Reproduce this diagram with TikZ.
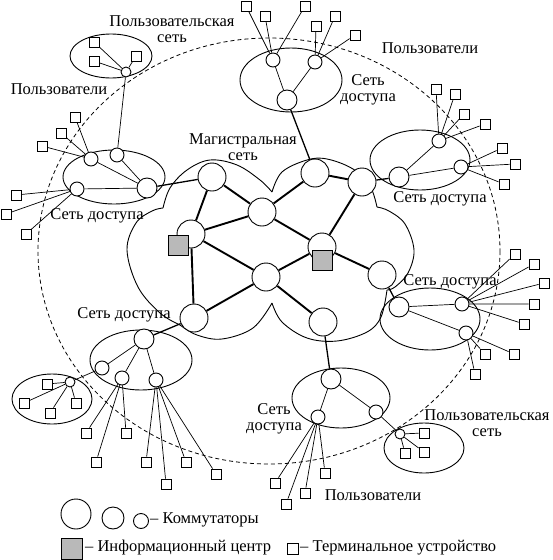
\documentclass[tikz,border=0pt]{standalone}
\usepackage{fontspec}
\setmainfont{Liberation Serif}
\newfontfamily\lbfont{Liberation Serif}
\begin{document}
\begin{tikzpicture}[x=1pt,y=-1pt,
  sw/.style={circle,draw,fill=white,inner sep=0pt,line width=0.9pt},
  bb/.style={sw,minimum size=28pt},
  am/.style={sw,minimum size=20pt},
  as/.style={sw,minimum size=14pt},
  us/.style={sw,minimum size=10pt},
  term/.style={rectangle,draw,fill=white,inner sep=0pt,minimum size=10pt,line width=0.8pt},
  info/.style={rectangle,draw,fill=gray!55,inner sep=0pt,minimum size=20pt,line width=0.8pt},
  thickl/.style={line width=1.9pt},
  medl/.style={line width=1.3pt},
  thinl/.style={line width=0.7pt},
  encl/.style={line width=0.9pt},
  lbl/.style={font=\lbfont\fontsize{16.5}{16}\selectfont,inner sep=0pt,align=center}
]
\useasboundingbox (0,0) rectangle (552,560);
% dashed boundary
\draw[dashed,dash pattern=on 4pt off 3pt,line width=0.8pt] (269,251) ellipse [x radius=231,y radius=213];

% backbone cloud
\draw[encl] plot[smooth,tension=0.6] coordinates {(163,208)(170,188)(187,170)(210,160)(237,165)(260,180)(272,192)};
\draw[encl] plot[smooth,tension=0.6] coordinates {(272,192)(282,172)(307,160)(327,159)(353,169)(370,186)(377,207)};
\draw[encl] plot[smooth,tension=0.6] coordinates {(377,207)(389,211)(405,224)(414,250)(408,273)(395,287)(387,290)};
\draw[encl] plot[smooth,tension=0.6] coordinates {(387,290)(381,317)(367,332)(337,341)(307,338)(282,322)(272,303)};
\draw[encl] plot[smooth,tension=0.6] coordinates {(272,303)(253,328)(222,339)(197,335)(180,325)};
\draw[encl] plot[smooth,tension=0.6] coordinates {(180,325)(160,313)(138,287)(127,250)(136,223)(152,211)(163,208)};

% access network ellipses
\draw[encl] (114,177) ellipse [x radius=51,y radius=27];
\draw[encl] (111,56) ellipse [x radius=41,y radius=22];
\draw[encl] (291,80) ellipse [x radius=51,y radius=32];
\draw[encl] (420,160) ellipse [x radius=50,y radius=30];
\draw[encl] (430,319) ellipse [x radius=50,y radius=31];
\draw[encl] (341,398) ellipse [x radius=49,y radius=30];
\draw[encl] (424,448) ellipse [x radius=40,y radius=25];
\draw[encl] (141,360) ellipse [x radius=51,y radius=30];
\draw[encl] (52,399) ellipse [x radius=40,y radius=25];

% backbone switches
\node[bb] (bA) at (212,177) {};
\node[bb] (bB) at (262,212) {};
\node[bb] (bC) at (315,173) {};
\node[bb] (bD) at (362,182) {};
\node[bb] (bE) at (191,234) {};
\node[bb] (bF) at (266,277) {};
\node[bb] (bG) at (322,247) {};
\node[bb] (bH) at (382,275) {};
\node[bb] (bI) at (194,318) {};
\node[bb] (bJ) at (323,322) {};
\node[info] (ic1) at (178,245) {};
\node[info] (ic2) at (322,260) {};

% left access
\node[as] (L1) at (91,159) {};
\node[as] (L2) at (117,155) {};
\node[as] (L3) at (77,189) {};
\node[am] (L0) at (147,188) {};
% top-left user
\node[us] (U1) at (126,72) {};
\node[term] (u1a) at (94,42) {};
\node[term] (u1b) at (94,61) {};
\node[term] (u1c) at (136,56) {};
% top access
\node[as] (T1) at (273,60) {};
\node[as] (T2) at (315,62) {};
\node[am] (T0) at (287,100) {};
% right upper access
\node[as] (R1) at (439,141) {};
\node[as] (R2) at (461,167) {};
\node[am] (R0) at (399,177) {};
% right middle access
\node[am] (M0) at (399,307) {};
\node[as] (M1) at (462,304) {};
\node[as] (M2) at (466,333) {};
% bottom access
\node[am] (B0) at (331,379) {};
\node[as] (B1) at (318,417) {};
\node[as] (B2) at (376,412) {};
% lower-right user
\node[us] (U2) at (400,434) {};
\node[term] (u2a) at (424,433) {};
\node[term] (u2b) at (405,453) {};
\node[term] (u2c) at (424,452) {};
% bottom-left access
\node[am] (W0) at (144,339) {};
\node[as] (W1) at (102,368) {};
\node[as] (W2) at (122,378) {};
\node[as] (W3) at (156,380) {};
% left user
\node[us] (U3) at (70,382) {};
\node[term] (u3a) at (47,384) {};
\node[term] (u3b) at (24,403) {};
\node[term] (u3c) at (50,413) {};
\node[term] (u3d) at (76,403) {};

% terminals
\node[term] (tL1a) at (75,117) {};
\node[term] (tL1b) at (61,133) {};
\node[term] (tL1c) at (42,146) {};
\node[term] (tL3a) at (16,195) {};
\node[term] (tL3b) at (6,214) {};
\node[term] (tL3c) at (26,234) {};
\node[term] (tT1a) at (246,6) {};
\node[term] (tT1b) at (265,16) {};
\node[term] (tT1c) at (305,6) {};
\node[term] (tT2a) at (316,26) {};
\node[term] (tT2b) at (335,16) {};
\node[term] (tT2c) at (355,35) {};
\node[term] (tR1a) at (436,89) {};
\node[term] (tR1b) at (455,94) {};
\node[term] (tR1c) at (464,114) {};
\node[term] (tR1d) at (485,124) {};
\node[term] (tR2a) at (502,148) {};
\node[term] (tR2b) at (515,164) {};
\node[term] (tR2c) at (504,184) {};
\node[term] (tM1a) at (515,254) {};
\node[term] (tM1b) at (534,264) {};
\node[term] (tM1c) at (544,283) {};
\node[term] (tM1d) at (534,304) {};
\node[term] (tM1e) at (524,324) {};
\node[term] (tM2a) at (514,354) {};
\node[term] (tM2b) at (485,354) {};
\node[term] (tM2c) at (475,374) {};
\node[term] (tB1a) at (275,483) {};
\node[term] (tB1b) at (286,504) {};
\node[term] (tB1c) at (305,493) {};
\node[term] (tB1d) at (325,473) {};
\node[term] (tW2a) at (86,433) {};
\node[term] (tW2b) at (96,462) {};
\node[term] (tW2c) at (126,433) {};
\node[term] (tW3a) at (146,462) {};
\node[term] (tW3b) at (166,484) {};
\node[term] (tW3c) at (186,462) {};
\node[term] (tW3d) at (216,474) {};

% backbone links
\draw[thickl] (bA)--(bB) (bA)--(bE) (bB)--(bC) (bB)--(bE) (bB)--(bG) (bC)--(bD)
  (bD)--(bG) (bE)--(bI) (bE)--(bF) (bF)--(bG) (bF)--(bI) (bF)--(bJ) (bG)--(bH);
% backbone to access
\draw[medl] (L0)--(bA) (T0)--(bC) (R0)--(bD) (M0)--(bH) (B0)--(bJ) (W0)--(bI);
% inside access networks
\draw[thinl] (L1)--(L0) (L2)--(L0) (L3)--(L0) (U1)--(L2)
  (U1)--(u1a) (U1)--(u1b) (U1)--(u1c)
  (T1)--(T0) (T2)--(T0)
  (R1)--(R0) (R2)--(R0)
  (M0)--(M1) (M0)--(M2)
  (B0)--(B1) (B0)--(B2) (B2)--(U2)
  (U2)--(u2a) (U2)--(u2b) (U2)--(u2c)
  (W0)--(W1) (W0)--(W2) (W0)--(W3) (W1)--(U3)
  (U3)--(u3a) (U3)--(u3b) (U3)--(u3c) (U3)--(u3d);
% terminals
\draw[thinl] (L1)--(tL1a) (L1)--(tL1b) (L1)--(tL1c)
  (L3)--(tL3a) (L3)--(tL3b) (L3)--(tL3c)
  (T1)--(tT1a) (T1)--(tT1b) (T1)--(tT1c)
  (T2)--(tT2a) (T2)--(tT2b) (T2)--(tT2c)
  (R1)--(tR1a) (R1)--(tR1b) (R1)--(tR1c) (R1)--(tR1d)
  (R2)--(tR2a) (R2)--(tR2b) (R2)--(tR2c)
  (M1)--(tM1a) (M1)--(tM1b) (M1)--(tM1c) (M1)--(tM1d) (M1)--(tM1e)
  (M2)--(tM2a) (M2)--(tM2b) (M2)--(tM2c)
  (B1)--(tB1a) (B1)--(tB1b) (B1)--(tB1c) (B1)--(tB1d)
  (W2)--(tW2a) (W2)--(tW2b) (W2)--(tW2c)
  (W3)--(tW3a) (W3)--(tW3b) (W3)--(tW3c) (W3)--(tW3d);

% labels
\node[lbl] (l1) at (172,29) {Пользовательская\\сеть};
\node[lbl] (l2) at (59,89) {Пользователи};
\node[lbl] (l3) at (243,147) {Магистральная\\сеть};
\node[lbl] (l4) at (430,48) {Пользователи};
\node[lbl] (l5) at (368,90) {Сеть\\доступа};
\node[lbl] (l6) at (440,199) {Сеть доступа};
\node[lbl] (l7) at (97,216) {Сеть доступа};
\node[lbl] (l8) at (450,282) {Сеть доступа};
\node[lbl] (l9) at (124,315) {Сеть доступа};
\node[lbl] (l10) at (274,419) {Сеть\\доступа};
\node[lbl] (l11) at (487,423) {Пользовательская\\сеть};
\node[lbl] (l12) at (373,495) {Пользователи};

% legend
\node[sw,minimum size=30pt] (k1) at (76,514) {};
\node[sw,minimum size=22pt] (k2) at (113,518) {};
\node[sw,minimum size=15pt] (k3) at (141,521) {};
\node[lbl,anchor=west] (kt) at (150,520) {– Коммутаторы};
\node[info,minimum size=21pt] (ki) at (72,549) {};
\node[lbl,anchor=west] (kit) at (85,548) {– Информационный центр};
\node[term,minimum size=11pt] (kq) at (293,549) {};
\node[lbl,anchor=west] (kqt) at (300,548) {– Терминальное устройство};
\end{tikzpicture}
\end{document}
